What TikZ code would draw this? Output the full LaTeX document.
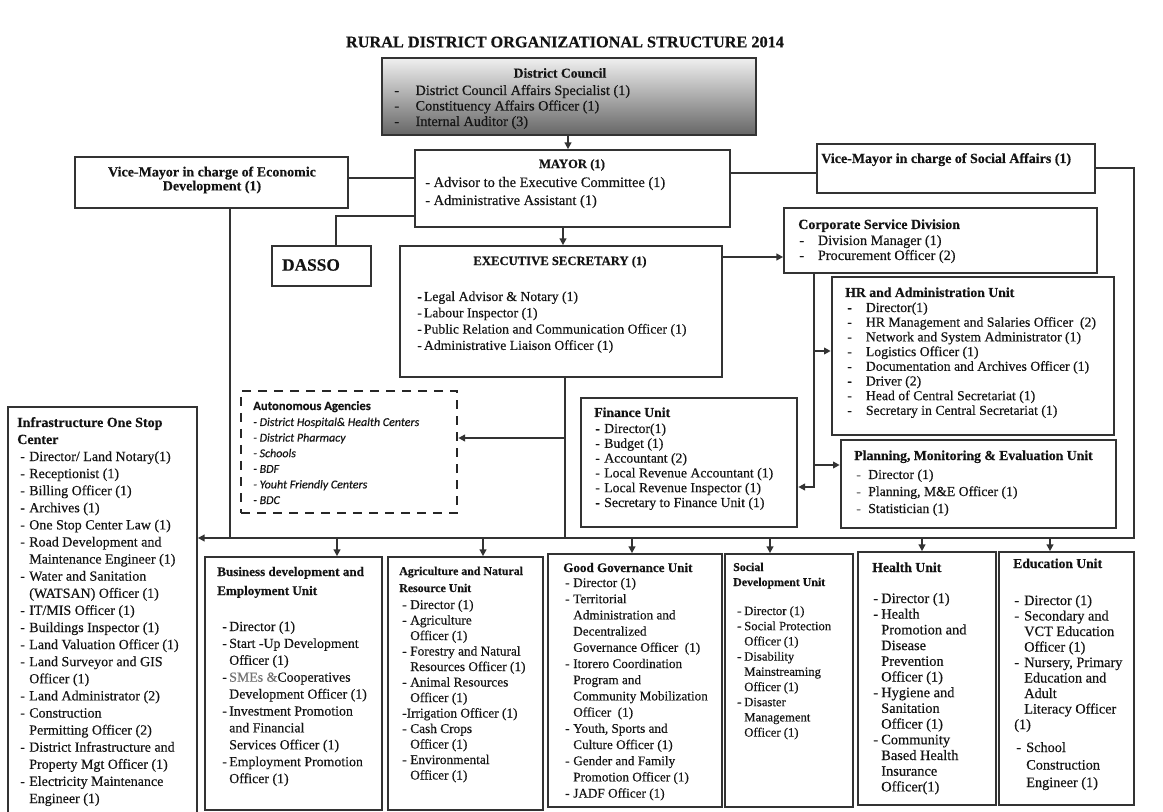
\documentclass[tikz,border=0pt]{standalone}
\usepackage{fontspec}
\setmainfont{Liberation Serif}[FakeBold=0.35]
\newfontfamily\agfont{Carlito}[FakeBold=0.3]
\usetikzlibrary{arrows.meta,fit}

% width reserved for the bullet dash of a list
\newlength\dw
\newcommand{\dsh}{\makebox[\dw][l]{-}}
\newcommand{\gdsh}{\makebox[\dw][l]{\textcolor{black!45}{-}}}
\newcommand{\cnt}{\hspace*{\dw}}
\newcommand{\fs}[1]{\fontsize{#1}{#1}\selectfont}

% #1 name prefix, #2 font, #3 x, #4 y of first line, #5 line step, #6 lines
\newcommand{\txtlines}[6]{%
  \foreach \tline [count=\nn] in {#6}{%
    \node[txt,font=#2,anchor=base west] (#1\nn) at (#3,{#4+4+(\nn-1)*#5}) {\tline};}}

\tikzset{
  box/.style={draw=black!80, line width=1.3pt, inner sep=0pt},
  heavybox/.style={box, line width=2pt},
  dashbox/.style={draw=black!85, line width=2pt, dash pattern=on 7pt off 5pt, inner sep=0pt},
  conn/.style={draw=black!80, line width=1.3pt},
  arr/.style={conn, -{Triangle[length=5pt,width=5pt]}},
  txt/.style={inner sep=0pt, text=black!92},
}

\begin{document}
\begin{tikzpicture}[x=0.75pt,y=-0.75pt]
\useasboundingbox (0,0) rectangle (1163,812);
\fill[white] (0,0) rectangle (1163,812);

% ---------- boxes ----------
\node[box, fit={(382,58)(756,135)}, top color=black!6, bottom color=black!60] (dc) {};
\node[box, fit={(415,150)(730,227)}] (mayor) {};
\node[box, fit={(75,157)(348,208)}] (vme) {};
\node[box, fit={(817,144)(1095,193)}] (vms) {};
\node[box, fit={(272,246)(371,286)}] (dasso) {};
\node[box, fit={(400,246)(722,377)}] (es) {};
\node[box, fit={(784,208)(1097,273)}] (cs) {};
\node[heavybox, fit={(832,277)(1114,435)}] (hr) {};
\node[heavybox, fit={(841,440)(1116,528)}] (pme) {};
\node[heavybox, fit={(581,398)(797,527)}] (fin) {};
\node[dashbox, fit={(241,391)(457,513)}] (auto) {};
\node[box, fit={(8,407)(197,818)}] (infra) {};
\node[box, fit={(205,557)(382,810)}] (biz) {};
\node[box, fit={(388,557)(543,810)}] (agr) {};
\node[box, fit={(548,554)(722,807)}] (gg) {};
\node[box, fit={(725,554)(853,807)}] (soc) {};
\node[box, fit={(858,552)(996,805)}] (hea) {};
\node[box, fit={(999,552)(1134,805)}] (edu) {};

% ---------- connectors ----------
\coordinate (dcM) at (568,0);
\draw[arr] (dcM |- dc.south) -- (dcM |- mayor.north);
\coordinate (myE) at (563,0);
\draw[arr] (myE |- mayor.south) -- (myE |- es.north);
\coordinate (myV) at (0,178);
\draw[conn] (myV -| mayor.west) -- (myV -| vme.east);
\coordinate (myS) at (0,173);
\draw[conn] (myS -| mayor.east) -- (myS -| vms.west);
\coordinate (myD) at (336,216);
\draw[conn] (myD -| mayor.west) -- (myD) -- (myD |- dasso.north);
\coordinate (esC) at (0,257);
\draw[arr] (esC -| es.east) -- (esC -| cs.west);
\coordinate (csV) at (814,487);
\draw[arr] (csV |- cs.south) -- (csV) -- (csV -| fin.east);
\coordinate (csH) at (814,351);
\draw[arr] (csH) -- (csH -| hr.west);
\coordinate (csP) at (814,465);
\draw[arr] (csP) -- (csP -| pme.west);

% main bus under the units
\coordinate (vmsR) at (1134,168);
\coordinate (busR) at (1134,538);
\draw[arr] (vmsR -| vms.east) -- (vmsR) -- (busR) -- (busR -| infra.east);
\coordinate (vmeB) at (230,538);
\draw[conn] (vmeB |- vme.south) -- (vmeB);
\coordinate (esB) at (565,538);
\draw[conn] (esB |- es.south) -- (esB);
\coordinate (esA) at (565,438);
\draw[arr] (esA) -- (esA -| auto.east);

\coordinate (d1) at (337,538);
\coordinate (d2) at (483,538);
\coordinate (d3) at (632,538);
\coordinate (d4) at (770,538);
\coordinate (d5) at (922,538);
\coordinate (d6) at (1050,538);
\foreach \c/\b in {d1/biz,d2/agr,d3/gg,d4/soc,d5/hea,d6/edu}
  \draw[arr] (\c) -- (\c |- \b.north);

% ---------- texts ----------
\node[txt, font=\bfseries\fs{12.2}] (title) at (565,42) {RURAL DISTRICT ORGANIZATIONAL STRUCTURE 2014};

% District Council
\node[txt, font=\bfseries\fs{10.2}] (dct) at (560,73) {District Council};
\setlength\dw{16pt}
\txtlines{dci}{\fs{10.7}}{394}{91}{15.5}{{\dsh District Council Affairs Specialist (1)},{\dsh Constituency Affairs Officer (1)},{\dsh Internal Auditor (3)}}

% Mayor
\node[txt, font=\bfseries\fs{9.5}] (myt) at (572,165) {MAYOR (1)};
\txtlines{myi}{\fs{10.8}}{425}{183}{18}{{- Advisor to the Executive Committee (1)},{- Administrative Assistant (1)}}

% Vice-Mayors
\node[txt, font=\bfseries\fs{10.5}, align=center] (vmet) at (212,180) {Vice-Mayor in charge of Economic\\Development (1)};
\node[txt, font=\bfseries\fs{10.5}, anchor=base west] (vmst) at (821,163) {Vice-Mayor in charge of Social Affairs (1)};

% DASSO
\node[txt, font=\bfseries\fs{13}] (dst) at (311,265) {DASSO};

% Executive Secretary
\node[txt, font=\bfseries\fs{9.5}] (est) at (560,262) {EXECUTIVE SECRETARY (1)};
\setlength\dw{5pt}
\txtlines{esi}{\fs{10.3}}{417}{297}{16.3}{{\dsh Legal Advisor \& Notary (1)},{\dsh Labour Inspector (1)},{\dsh Public Relation and Communication Officer (1)},{\dsh Administrative Liaison Officer (1)}}

% Corporate Service Division
\node[txt, font=\bfseries\fs{10.5}, anchor=base west] (cst) at (798,229) {Corporate Service Division};
\setlength\dw{14pt}
\txtlines{csi}{\fs{10.7}}{799}{241}{15}{{\dsh Division Manager (1)},{\dsh Procurement Officer (2)}}

% HR and Administration
\node[txt, font=\bfseries\fs{10.3}, anchor=base west] (hrt) at (845,297) {HR and Administration Unit};
\txtlines{hri}{\fs{10.3}}{847}{308}{14.7}{{\dsh Director(1)},{\dsh HR Management and Salaries Officer\ \ (2)},{\dsh Network and System Administrator (1)},{\dsh Logistics Officer (1)},{\dsh Documentation and Archives Officer (1)},{\dsh Driver (2)},{\dsh Head of Central Secretariat (1)},{\dsh Secretary in Central Secretariat (1)}}

% Finance
\node[txt, font=\bfseries\fs{10.3}, anchor=base west] (fint) at (594,417) {Finance Unit};
\setlength\dw{6.75pt}
\txtlines{fini}{\fs{10.3}}{595}{429}{14.8}{{\dsh Director(1)},{\dsh Budget (1)},{\dsh Accountant (2)},{\dsh Local Revenue Accountant (1)},{\dsh Local Revenue Inspector (1)},{\dsh Secretary to Finance Unit (1)}}

% Planning, M&E
\node[txt, font=\bfseries\fs{10.3}, anchor=base west] (pmet) at (854,460) {Planning, Monitoring \& Evaluation Unit};
\setlength\dw{9pt}
\txtlines{pmei}{\fs{10.3}}{856}{475}{17}{{\gdsh Director (1)},{\gdsh Planning, M\&E Officer (1)},{\gdsh Statistician (1)}}

% Autonomous agencies
\node[txt, font=\agfont\bfseries\fs{9.5}, anchor=base west] (agt) at (253,410) {Autonomous Agencies};
\txtlines{agi}{\agfont\itshape\fs{9}}{253}{422}{15.6}{{- District Hospital\& Health Centers},{- District Pharmacy},{- Schools},{- BDF},{- Youht Friendly Centers},{- BDC}}

% Infrastructure One Stop Center
\node[txt, font=\bfseries\fs{10.5}, anchor=base west] (inft1) at (17,427) {Infrastructure One Stop};
\node[txt, font=\bfseries\fs{10.5}, anchor=base west] (inft2) at (17,444) {Center};
\setlength\dw{6.75pt}
\txtlines{infi}{\fs{10.5}}{20}{457}{17.1}{{\dsh Director/ Land Notary(1)},{\dsh Receptionist (1)},{\dsh Billing Officer (1)},{\dsh Archives (1)},{\dsh One Stop Center Law (1)},{\dsh Road Development and},{\cnt Maintenance Engineer (1)},{\dsh Water and Sanitation},{\cnt (WATSAN) Officer (1)},{\dsh IT/MIS Officer (1)},{\dsh Buildings Inspector (1)},{\dsh Land Valuation Officer (1)},{\dsh Land Surveyor and GIS},{\cnt Officer (1)},{\dsh Land Administrator (2)},{\dsh Construction},{\cnt Permitting Officer (2)},{\dsh District Infrastructure and},{\cnt Property Mgt Officer (1)},{\dsh Electricity Maintenance},{\cnt Engineer (1)}}

% Business development
\node[txt, font=\bfseries\fs{9.8}, anchor=base west] (bizt1) at (217,576) {Business development and};
\node[txt, font=\bfseries\fs{9.8}, anchor=base west] (bizt2) at (217,595) {Employment Unit};
\setlength\dw{5.25pt}
\txtlines{bizi}{\fs{10.4}}{222}{627}{16.9}{{\dsh Director (1)},{\dsh Start -Up Development},{\cnt Officer (1)},{\dsh \textcolor{black!55}{SMEs \&}Cooperatives},{\cnt Development Officer (1)},{\dsh Investment Promotion},{\cnt and Financial},{\cnt Services Officer (1)},{\dsh Employment Promotion},{\cnt Officer (1)}}

% Agriculture
\node[txt, font=\bfseries\fs{8.9}, anchor=base west] (agrt1) at (399,575) {Agriculture and Natural};
\node[txt, font=\bfseries\fs{8.9}, anchor=base west] (agrt2) at (399,592) {Resource Unit};
\setlength\dw{6pt}
\txtlines{agri}{\fs{10}}{402}{605}{15.5}{{\dsh Director (1)},{\dsh Agriculture},{\cnt Officer (1)},{\dsh Forestry and Natural},{\cnt Resources Officer (1)},{\dsh Animal Resources},{\cnt Officer (1)},{-Irrigation Officer (1)},{\dsh Cash Crops},{\cnt Officer (1)},{\dsh Environmental},{\cnt Officer (1)}}

% Good Governance
\node[txt, font=\bfseries\fs{9.8}, anchor=base west] (ggt) at (563,572) {Good Governance Unit};
\txtlines{ggi}{\fs{9.9}}{565}{583}{16.2}{{\dsh Director (1)},{\dsh Territorial},{\cnt Administration and},{\cnt Decentralized},{\cnt Governance Officer\ \ (1)},{\dsh Itorero Coordination},{\cnt Program and},{\cnt Community Mobilization},{\cnt Officer\ \ (1)},{\dsh Youth, Sports and},{\cnt Culture Officer (1)},{\dsh Gender and Family},{\cnt Promotion Officer (1)},{\dsh JADF Officer (1)}}

% Social Development
\node[txt, font=\bfseries\fs{8.9}, anchor=base west] (soct1) at (733,571) {Social};
\node[txt, font=\bfseries\fs{8.9}, anchor=base west] (soct2) at (733,586) {Development Unit};
\setlength\dw{5.25pt}
\txtlines{soci}{\fs{9.5}}{737}{611}{15.2}{{\dsh Director (1)},{\dsh Social Protection},{\cnt Officer (1)},{\dsh Disability},{\cnt Mainstreaming},{\cnt Officer (1)},{\dsh Disaster},{\cnt Management},{\cnt Officer (1)}}

% Health
\node[txt, font=\bfseries\fs{10.3}, anchor=base west] (heat) at (872,572) {Health Unit};
\setlength\dw{6pt}
\txtlines{heai}{\fs{10.8}}{873}{599}{15.7}{{\dsh Director (1)},{\dsh Health},{\cnt Promotion and},{\cnt Disease},{\cnt Prevention},{\cnt Officer (1)},{\dsh Hygiene and},{\cnt Sanitation},{\cnt Officer (1)},{\dsh Community},{\cnt Based Health},{\cnt Insurance},{\cnt Officer(1)}}

% Education
\node[txt, font=\bfseries\fs{10.2}, anchor=base west] (edut) at (1013,568) {Education Unit};
\setlength\dw{7.5pt}
\txtlines{edui}{\fs{10.7}}{1014}{601}{15.5}{{\dsh Director (1)},{\dsh Secondary and},{\cnt VCT Education},{\cnt Officer (1)},{\dsh Nursery, Primary},{\cnt Education and},{\cnt Adult},{\cnt Literacy Officer},{(1)}}
\txtlines{edub}{\fs{10.7}}{1016}{748}{17.5}{{\dsh School},{\cnt Construction},{\cnt Engineer (1)}}

\end{tikzpicture}
\end{document}
